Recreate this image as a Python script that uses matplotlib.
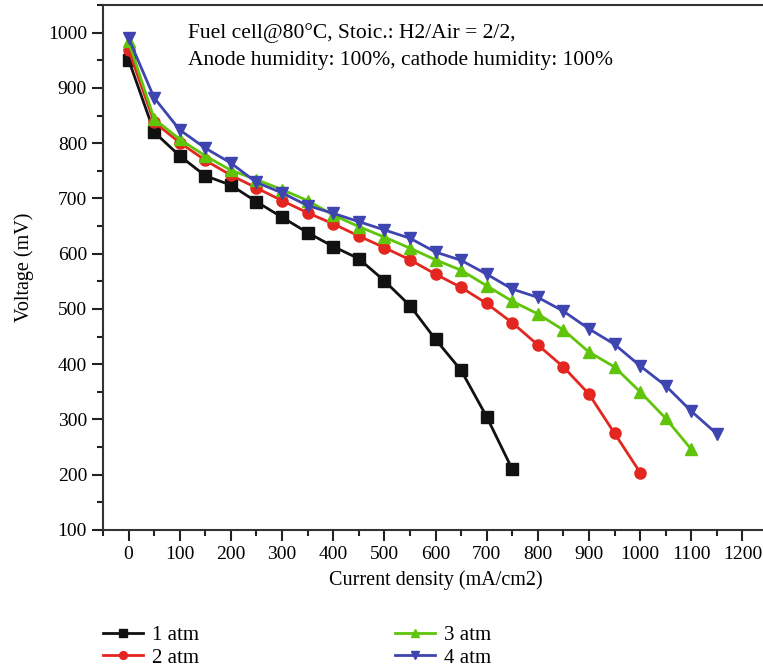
import numpy as np
import matplotlib
matplotlib.use("Agg")
from matplotlib import pyplot as plt
from matplotlib.ticker import MultipleLocator

# current density (mA/cm2) and voltage (mV) for each pressure
x_1atm = list(range(0, 751, 50))
v_1atm = [951, 820, 777, 741, 724, 694, 666, 638, 613, 591, 551, 506, 445, 389, 305, 210]

x_2atm = list(range(0, 1001, 50))
v_2atm = [969, 838, 801, 769, 742, 719, 696, 674, 654, 632, 611, 589, 563, 539, 510,
          475, 435, 395, 346, 275, 204]

x_3atm = list(range(0, 1101, 50))
v_3atm = [984, 844, 807, 777, 751, 734, 716, 696, 670, 649, 630, 610, 589, 570, 542,
          514, 491, 462, 422, 395, 350, 302, 246]

x_4atm = list(range(0, 1151, 50))
v_4atm = [990, 882, 824, 791, 764, 729, 710, 687, 673, 658, 643, 628, 603, 588, 563,
          536, 521, 496, 464, 436, 397, 361, 315, 274]

labels = ["1 atm", "2 atm", "3 atm", "4 atm"]
x_ticks = list(range(0, 1201, 100))
y_ticks = list(range(100, 1001, 100))

plt.rcParams['font.family'] = ['Liberation Serif', 'DejaVu Serif']
plt.rcParams['font.size'] = 14

fig = plt.figure(figsize=(7.63, 6.71), dpi=100)
ax = fig.add_axes([103 / 763, 1 - 530 / 671, 665 / 763, 525 / 671])

series = [
    (x_1atm, v_1atm, "#111111", "s"),
    (x_2atm, v_2atm, "#e3261f", "o"),
    (x_3atm, v_3atm, "#5fc40a", "^"),
    (x_4atm, v_4atm, "#3f45b0", "v"),
]
for (xs, ys, col, mk), lab in zip(series, labels):
    ax.plot(xs, ys, color=col, marker=mk, markersize=8, linewidth=2, label=lab)

ax.set_xlim(-50, 1250)
ax.set_ylim(100, 1050)
ax.set_xticks(x_ticks)
ax.set_yticks(y_ticks)
ax.xaxis.set_minor_locator(MultipleLocator(50))
ax.yaxis.set_minor_locator(MultipleLocator(50))
ax.tick_params(which="major", direction="out", length=8, width=1.5, color="#222222",
               labelsize=14)
ax.tick_params(which="minor", direction="out", length=4, width=1.5, color="#222222")
ax.tick_params(top=False, right=False)
for sp in ax.spines.values():
    sp.set_linewidth(1.5)
    sp.set_color("#333333")

ax.set_xlabel("Current density (mA/cm2)", labelpad=5, fontsize=14.5)
ax.set_ylabel("Voltage (mV)", labelpad=10, fontsize=14.5)

ax.text(188 / 763, 1 - 33 / 671, "Fuel cell@80°C, Stoic.: H2/Air = 2/2,",
        transform=fig.transFigure, va="center", ha="left", fontsize=15.5)
ax.text(188 / 763, 1 - 60 / 671, "Anode humidity: 100%, cathode humidity: 100%",
        transform=fig.transFigure, va="center", ha="left", fontsize=15.5)

fig.legend(loc="upper left", bbox_to_anchor=(95 / 763, 1 - 617 / 671), ncol=2,
           frameon=False, handlelength=1.9, columnspacing=9.4, labelspacing=0.15,
           handletextpad=0.45, borderaxespad=0, markerscale=0.7, fontsize=15)

fig.savefig("out.png", dpi=100)
